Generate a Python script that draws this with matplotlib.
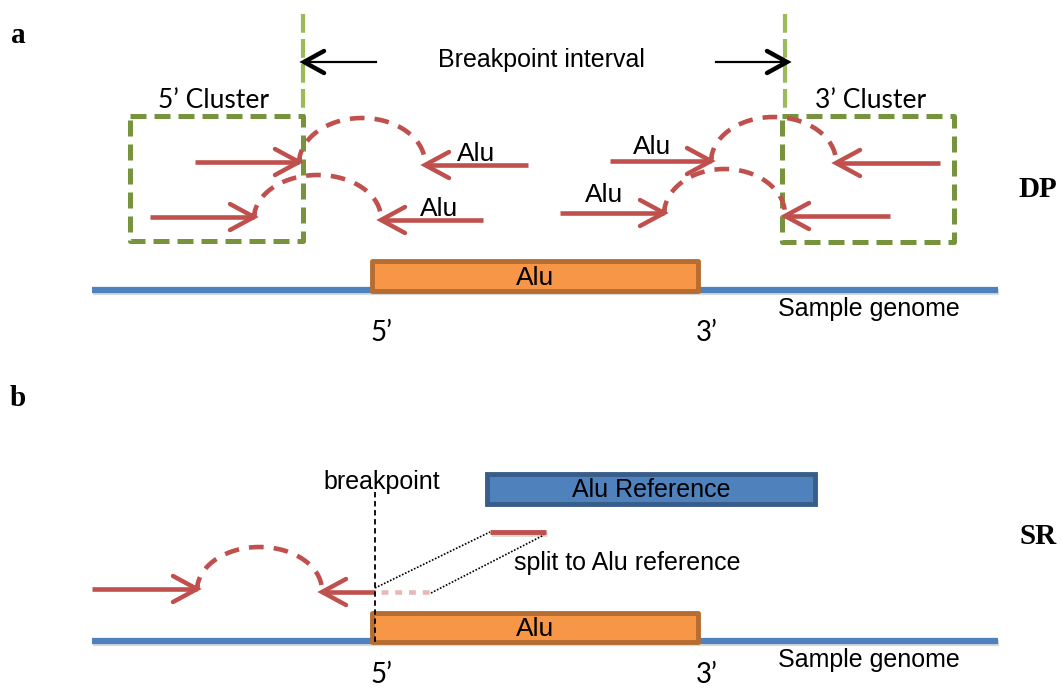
import numpy as np
import matplotlib.pyplot as plt
import matplotlib.patheffects as pe

plt.rcParams['font.family'] = ['Liberation Sans', 'DejaVu Sans']

# colours
red = '#C0504D'
blue = '#4F81BD'
blue_dark = '#385D8A'
orange = '#F79646'
orange_dark = '#B66D31'
green_dark = '#77933C'
green_light = '#9BBB59'

# panel a (DP): discordant read pairs, pixel coords of the original figure
dp_fwd_start = [195, 150, 610, 560]
dp_fwd_tip = [299, 254, 711, 664]
dp_fwd_y = [162, 217, 161, 213]
dp_rev_tip = [425, 381, 836, 785]
dp_rev_end = [528, 483, 940, 890]
dp_rev_y = [165, 220, 163, 216]
dp_peak_y = [118, 175, 117, 169]
dp_alu_labels = [(476, 154), (439, 209), (652, 147), (604, 195)]

clusters = [(130, 116, 303, 241), (782, 116, 954, 242)]   # x0, y0, x1, y1
cluster_labels = ["5\u2019 Cluster", "3\u2019 Cluster"]
bp_lines_x = [303, 785]

genome_x = [92, 998]
genome_y = [290, 641]
alu_x = [372, 698]
alu_top = [261, 613]
prime_y = [333, 675]

# panel b (SR): split read
sr_fwd = (92, 197, 589)
sr_rev = (322, 375, 592)
sr_peak_y = 547
sr_ref_box = (487, 474, 815, 504)
sr_split = (490, 546, 532)
sr_breakpoint_x = 375

fig = plt.figure(figsize=(10.62, 6.91), dpi=100)
ax = fig.add_axes([0, 0, 1, 1])
ax.set_xlim(0, 1062)
ax.set_ylim(691, 0)
ax.axis('off')

shadow = [pe.SimplePatchShadow(offset=(1, -1.5), alpha=0.15), pe.Normal()]
shadow_line = [pe.SimpleLineShadow(offset=(1, -1.5), alpha=0.15), pe.Normal()]


def head(x, y, d, color, lw=3.2, L=24, h=13):
    # open chevron arrow head, d=+1 points right, -1 points left
    ax.plot([x - d * L, x, x - d * L], [y - h, y, y + h], color=color, lw=lw,
            solid_capstyle='round', solid_joinstyle='miter', zorder=5)


def arc(x0, y0, x1, y1, peak):
    t = np.linspace(np.pi, 0, 60)
    xc = (x0 + x1) / 2
    a = (x1 - x0) / 2
    base = (y0 + y1) / 2
    xs = xc + a * np.cos(t)
    ys = base - (base - peak) * np.sin(t)
    ys[0], ys[-1] = y0 - 4, y1 - 2
    ax.plot(xs, ys, color=red, lw=3.3, ls=(0, (3.2, 2.2)), zorder=4)


# ---- panel a ----
for x in bp_lines_x:
    ax.plot([x, x], [14, 118], color=green_light, lw=3, ls=(0, (4.5, 1.5)), zorder=3)

for (x0, y0, x1, y1), lab in zip(clusters, cluster_labels):
    ax.plot([x0, x1, x1, x0, x0], [y0, y0, y1, y1, y0], color=green_dark, lw=3.6,
            ls=(0, (3.2, 1.6)), zorder=3)
    ax.text((x0 + x1) / 2 + (-3 if x0 < 500 else 3), y0 - 16, lab, fontsize=19,
            family='Lato', ha='center', va='center')

# breakpoint interval arrows
ax.plot([304, 376], [62, 62], color='black', lw=1.6)
head(304, 62, -1, 'black', lw=3.2, L=20, h=11)
ax.plot([716, 787], [62, 62], color='black', lw=1.6)
head(787, 62, 1, 'black', lw=3.2, L=20, h=11)
ax.text(541, 60, 'Breakpoint interval', fontsize=18, ha='center', va='center')

for i in range(4):
    ax.plot([dp_fwd_start[i], dp_fwd_tip[i]], [dp_fwd_y[i]] * 2, color=red, lw=3.3,
            solid_capstyle='butt', zorder=5)
    head(dp_fwd_tip[i], dp_fwd_y[i], 1, red)
    arc(dp_fwd_tip[i], dp_fwd_y[i], dp_rev_tip[i], dp_rev_y[i], dp_peak_y[i])
    ax.plot([dp_rev_tip[i], dp_rev_end[i]], [dp_rev_y[i]] * 2, color=red, lw=3.3,
            solid_capstyle='butt', zorder=5)
    head(dp_rev_tip[i], dp_rev_y[i], -1, red)
for x, y in dp_alu_labels:
    ax.text(x, y, 'Alu', fontsize=19, ha='center', va='center', zorder=6)

# genome lines, Alu insertions, labels for both panels
for gy, at, py in zip(genome_y, alu_top, prime_y):
    ax.plot(genome_x, [gy, gy], color=blue, lw=4.5, solid_capstyle='butt', zorder=2,
            path_effects=shadow_line)
    box = plt.Rectangle((alu_x[0], at), alu_x[1] - alu_x[0], gy - at + 1,
                        facecolor=orange, edgecolor=orange_dark, lw=3.5, zorder=3,
                        joinstyle='round', path_effects=shadow)
    ax.add_patch(box)
    ax.text((alu_x[0] + alu_x[1]) / 2, (at + gy) / 2 + 2, 'Alu', fontsize=19,
            ha='center', va='center', zorder=4)
    ax.text(869, gy + 19, 'Sample genome', fontsize=18, ha='center', va='center')
    ax.text(alu_x[0] + 9, py, '5\u2019', fontsize=20, family='Lato',
            ha='center', va='center')
    ax.text(alu_x[1] + 9, py, '3\u2019', fontsize=20, family='Lato',
            ha='center', va='center')

# panel labels
for x, y, s in [(18, 35, 'a'), (18, 398, 'b'), (1038, 189, 'DP'), (1038, 537, 'SR')]:
    ax.text(x, y, s, fontsize=21, fontweight='bold', family='Liberation Serif',
            ha='center', va='center')

# ---- panel b ----
x0, y0, x1, y1 = sr_ref_box
ax.add_patch(plt.Rectangle((x0, y0), x1 - x0, y1 - y0, facecolor=blue,
                           edgecolor=blue_dark, lw=3.5, zorder=3, path_effects=shadow))
ax.text((x0 + x1) / 2, (y0 + y1) / 2 + 1, 'Alu Reference', fontsize=18,
        ha='center', va='center', zorder=4)

ax.plot([sr_fwd[0], sr_fwd[1]], [sr_fwd[2]] * 2, color=red, lw=3.3, solid_capstyle='butt')
head(sr_fwd[1], sr_fwd[2], 1, red)
arc(sr_fwd[1], sr_fwd[2], sr_rev[0], sr_rev[2], sr_peak_y)
ax.plot([sr_rev[0], sr_rev[1]], [sr_rev[2]] * 2, color=red, lw=3.3, solid_capstyle='butt')
head(sr_rev[0], sr_rev[2], -1, red)
ax.plot([sr_rev[1] + 6, sr_rev[1] + 55], [sr_rev[2]] * 2, color='#E6B9B8', lw=3.3,
        ls=(0, (1.5, 1.5)))

ax.plot([sr_split[0], sr_split[1]], [sr_split[2]] * 2, color=red, lw=3.5,
        solid_capstyle='butt', path_effects=shadow_line)
ax.plot([sr_breakpoint_x, sr_split[0]], [588, sr_split[2]], color='black', lw=1.2,
        ls=(0, (1, 1)))
ax.plot([sr_breakpoint_x + 56, sr_split[1] - 2], [593, sr_split[2] + 3], color='black',
        lw=1.2, ls=(0, (1, 1)))
ax.plot([sr_breakpoint_x] * 2, [492, 644], color='black', lw=1.3, ls=(0, (3, 2)), zorder=6)
ax.text(382, 482, 'breakpoint', fontsize=18, ha='center', va='center')
ax.text(627, 563, 'split to Alu reference', fontsize=18, ha='center', va='center')

fig.savefig('out.png', dpi=100)
